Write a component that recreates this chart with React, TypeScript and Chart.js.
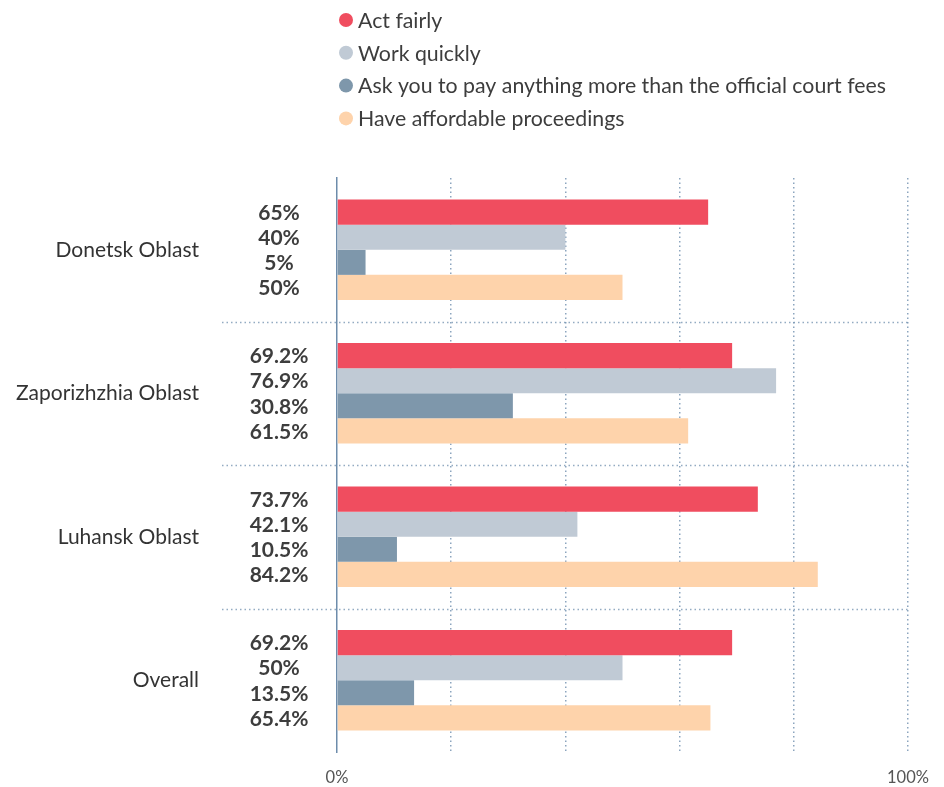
import React, { useEffect, useRef } from 'react';
import { Chart, registerables } from 'chart.js';
Chart.register(...registerables);

const categories = ['Donetsk Oblast', 'Zaporizhzhia Oblast', 'Luhansk Oblast', 'Overall'];
const seriesNames = [
  'Act fairly',
  'Work quickly',
  'Ask you to pay anything more than the official court fees',
  'Have affordable proceedings',
];
const actFairly = [65, 69.2, 73.7, 69.2];
const workQuickly = [40, 76.9, 42.1, 50];
const askToPay = [5, 30.8, 10.5, 13.5];
const affordable = [50, 61.5, 84.2, 65.4];
const shownTicks = [0, 100];
const colors = ['#f04d5f', '#c0cad5', '#7e97ab', '#fed3ab'];

const FONT = 'Lato, "Noto Sans", sans-serif';

const separatorPlugin = {
  id: 'separators',
  beforeDatasetsDraw(chart: any) {
    const { ctx, chartArea, scales } = chart;
    const y = scales.y;
    ctx.save();
    ctx.strokeStyle = 'rgba(111,143,174,0.75)';
    ctx.lineWidth = 1.5;
    ctx.setLineDash([1.5, 3]);
    for (let i = 1; i < categories.length; i++) {
      const py = Math.round((y.getPixelForValue(i - 1) + y.getPixelForValue(i)) / 2) + 0.5;
      ctx.beginPath();
      ctx.moveTo(222, py);
      ctx.lineTo(chartArea.right, py);
      ctx.stroke();
    }
    ctx.restore();
  },
};

const valueLabelPlugin = {
  id: 'valueLabels',
  afterDatasetsDraw(chart: any) {
    const { ctx } = chart;
    ctx.save();
    ctx.font = `bold 21px ${FONT}`;
    ctx.fillStyle = '#3d3d3d';
    ctx.textAlign = 'center';
    ctx.textBaseline = 'middle';
    chart.data.datasets.forEach((ds: any, di: number) => {
      const meta = chart.getDatasetMeta(di);
      meta.data.forEach((el: any, i: number) => {
        ctx.fillText(`${ds.data[i]}%`, 279, el.y + 1);
      });
    });
    ctx.restore();
  },
};

const legendPlugin = {
  id: 'customLegend',
  afterDraw(chart: any) {
    const { ctx } = chart;
    ctx.save();
    ctx.font = `21.3px ${FONT}`;
    ctx.textAlign = 'left';
    ctx.textBaseline = 'middle';
    seriesNames.forEach((name, i) => {
      const cy = 20 + i * 32.8;
      ctx.fillStyle = colors[i];
      ctx.beginPath();
      ctx.arc(346, cy, 7, 0, Math.PI * 2);
      ctx.fill();
      ctx.fillStyle = '#3d3d3d';
      ctx.fillText(name, 358, cy + 1);
    });
    ctx.restore();
  },
};

export default function App() {
  const ref = useRef<HTMLCanvasElement | null>(null);
  useEffect(() => {
    if (!ref.current) return;
    const seriesData = [actFairly, workQuickly, askToPay, affordable];
    const chart = new Chart(ref.current, {
      type: 'bar',
      data: {
        labels: categories,
        datasets: seriesNames.map((name, i) => ({
          label: name,
          data: seriesData[i],
          backgroundColor: colors[i],
          borderWidth: 0,
          barPercentage: 1,
          categoryPercentage: 0.7,
        })),
      },
      options: {
        indexAxis: 'y',
        responsive: true,
        maintainAspectRatio: false,
        animation: false,
        devicePixelRatio: 1,
        layout: { padding: { top: 178, right: 36, left: 0, bottom: 0 } },
        plugins: { legend: { display: false }, tooltip: { enabled: false } },
        scales: {
          x: {
            min: 0,
            max: 100,
            ticks: {
              stepSize: 20,
              autoSkip: false,
              maxRotation: 0,
              padding: 16,
              color: '#555',
              font: { family: FONT, size: 16.5 },
              callback: (v: any) => (shownTicks.includes(Number(v)) ? `${v}%` : ''),
            },
            grid: {
              drawTicks: false,
              lineWidth: 1.5,
              color: (c: any) => (c.tick && c.tick.value === 0 ? 'rgba(0,0,0,0)' : 'rgba(111,143,174,0.8)'),
            },
            border: { display: false, dash: [1.5, 3] },
            afterFit: (s: any) => {
              s.height = 35;
              s.paddingLeft = 0;
              s.paddingRight = 0;
            },
          },
          y: {
            ticks: {
              padding: 138,
              crossAlign: 'near',
              color: '#333',
              font: { family: FONT, size: 21 },
            },
            grid: { display: false, drawTicks: false },
            border: { display: true, color: '#6d8cab', width: 1.5 },
            afterFit: (s: any) => {
              s.width = 337;
              s.paddingTop = 0;
              s.paddingBottom = 0;
            },
          },
        },
      },
      plugins: [separatorPlugin, valueLabelPlugin, legendPlugin],
    } as any);
    return () => chart.destroy();
  }, []);
  return (
    <div style={{ position: 'absolute', left: 0, top: 0, width: 944, height: 787, background: '#fff' }}>
      <canvas ref={ref} />
    </div>
  );
}
